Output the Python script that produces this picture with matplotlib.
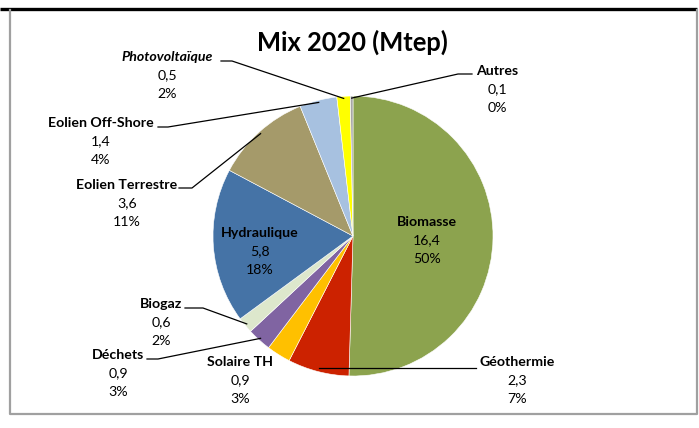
import numpy as np
import matplotlib.pyplot as plt

plt.rcParams['font.family'] = ['Lato', 'DejaVu Sans']

# donnees
noms = ['Biomasse', 'Géothermie', 'Solaire TH', 'Déchets', 'Biogaz', 'Hydraulique',
        'Eolien Terrestre', 'Eolien Off-Shore', 'Photovoltaïque', 'Autres']
valeurs = [16.4, 2.3, 0.9, 0.9, 0.6, 5.8, 3.6, 1.4, 0.5, 0.1]
couleurs = ['#8CA34E', '#CC2200', '#FFC000', '#8064A2', '#DDE7CC', '#4573A6',
            '#A59A6A', '#A7C1E0', '#FFFF00', '#A6A6A6']

W, H = 699, 428
cx, cy, R = 353, 236, 140

fig = plt.figure(figsize=(W / 100, H / 100), dpi=100)
ax = fig.add_axes([0, 0, 1, 1])

def Y(y):
    return H - y

ax.pie(valeurs, colors=couleurs, startangle=90, counterclock=False,
       center=(cx, Y(cy)), radius=R, frame=True,
       wedgeprops={'edgecolor': 'white', 'linewidth': 0.4})
ax.set_xlim(0, W)
ax.set_ylim(0, H)
ax.axis('off')

total = sum(valeurs)
cum = np.cumsum([0] + valeurs)

def bord(i, f=0.985):
    a = np.deg2rad(90 - 360 * (cum[i] + valeurs[i] / 2) / total)
    return cx + f * R * np.cos(a), cy - f * R * np.sin(a)

# position des etiquettes (x, y du nom) et depart du trait
etiq = {
    'Biomasse': (427, 222, None),
    'Géothermie': (517, 362, [(476, 368)]),
    'Solaire TH': (240, 362, None),
    'Déchets': (118, 355, [(147, 359), (158, 359)]),
    'Biogaz': (161, 304, [(185, 308), (203, 308)]),
    'Hydraulique': (260, 233, None),
    'Eolien Terrestre': (127, 185, [(179, 188), (192, 188)]),
    'Eolien Off-Shore': (101, 123, [(158, 127), (168, 127)]),
    'Photovoltaïque': (167, 57, [(221, 61), (232, 61)]),
    'Autres': (497, 71, [(472, 74), (458, 74)]),
}

fs = 10.2
for i, nom in enumerate(noms):
    x, y, trait = etiq[nom]
    pct = round(100 * valeurs[i] / total)
    ax.text(x, Y(y), nom, ha='center', va='center', fontsize=fs, fontweight='bold',
            fontstyle='italic' if nom == 'Photovoltaïque' else 'normal', color='black')
    ax.text(x, Y(y + 18.5), f'{valeurs[i]:.1f}'.replace('.', ','), ha='center', va='center',
            fontsize=fs, color='black')
    ax.text(x, Y(y + 37), f'{pct}%', ha='center', va='center', fontsize=fs, color='black')
    if trait:
        px, py = bord(i)
        if nom == 'Géothermie':
            pts = trait + [(px, trait[0][1])]
        else:
            pts = trait + [(px, py)]
        ax.plot([p[0] for p in pts], [Y(p[1]) for p in pts], color='black', lw=0.9)

ax.text(352, Y(42), 'Mix 2020 (Mtep)', ha='center', va='center', fontsize=18.4, fontweight='bold')

# cadre
ax.plot([0, 697], [Y(9), Y(9)], color='black', lw=2.4, solid_capstyle='butt')
ax.plot([10, 10, 697, 697], [Y(10), Y(414), Y(414), Y(10)], color='#A0A0A0', lw=1.6)

fig.savefig('out.png', dpi=100)
